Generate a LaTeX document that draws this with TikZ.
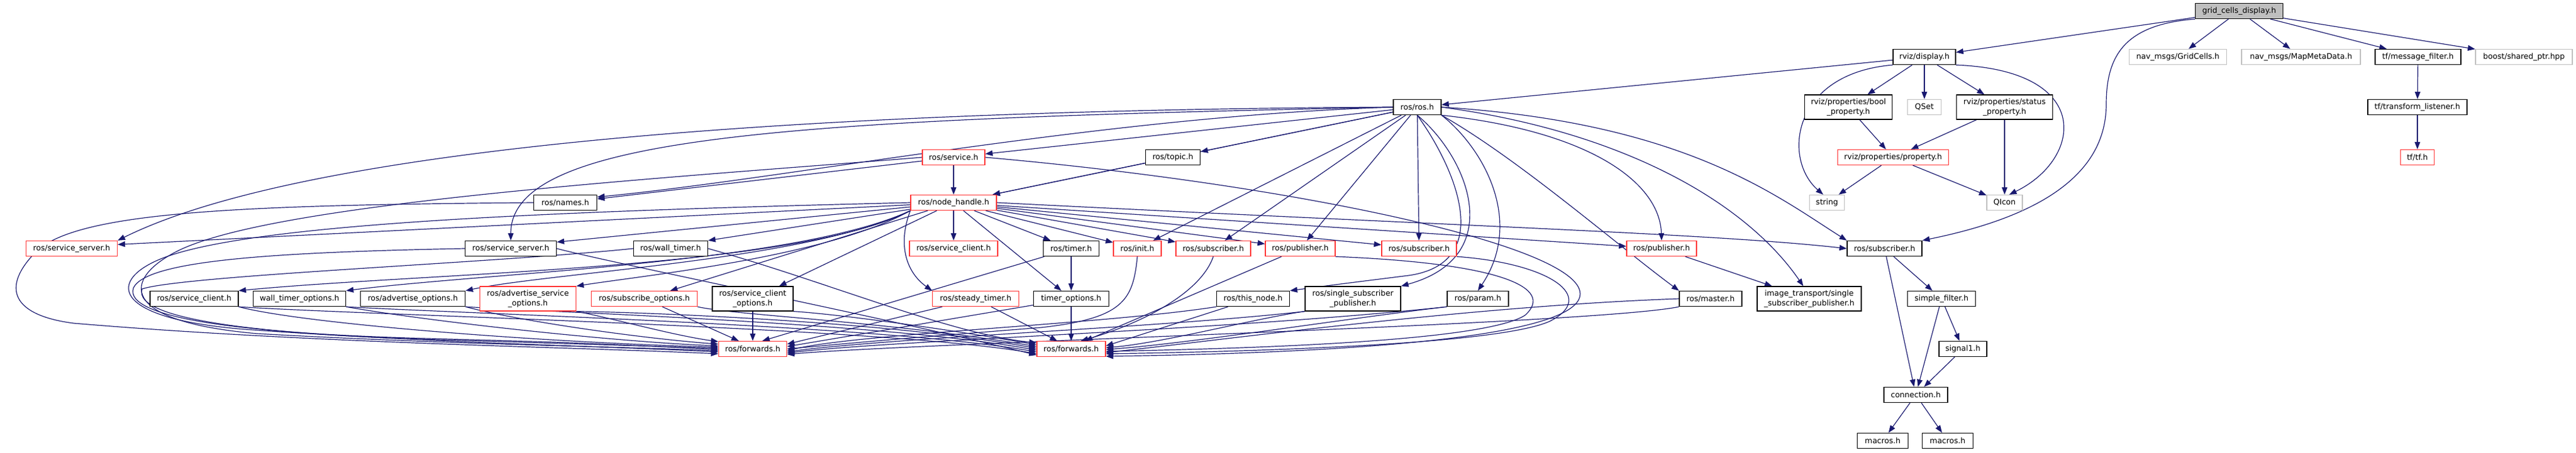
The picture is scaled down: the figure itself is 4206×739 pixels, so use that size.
\documentclass[tikz,border=0pt]{standalone}
\usepackage{fontspec}
\setmainfont{DejaVu Sans}
\usetikzlibrary{arrows.meta}
\pgfdeclarelayer{edges}
\pgfsetlayers{edges,main}
\definecolor{edgec}{RGB}{25,25,112}
\definecolor{redc}{RGB}{255,50,50}
\definecolor{grayc}{RGB}{191,191,191}
\tikzset{
 nb/.style={draw=black, line width=1.3pt, fill=white, inner sep=0pt, minimum height=25pt, font=\fontsize{12.6}{15.5}\selectfont, align=center},
 nr/.style={nb, draw=redc},
 ng/.style={nb, draw=grayc},
 tall/.style={minimum height=40pt},
 e/.style={draw=edgec, line width=1.2pt, -{Triangle[length=12pt,width=9pt]}},
}
\begin{document}
\begin{tikzpicture}[x=1pt,y=-1pt]
\useasboundingbox (0,0) rectangle (4206,739);
% row 1
\node[nb, fill=grayc, minimum width=143pt] (gcd) at (3656,18) {grid\_cells\_display.h};
% row 2
\node[nb, minimum width=102pt] (disp) at (3142,93) {rviz/display.h};
\node[ng, minimum width=159pt] (gridcells) at (3556,93) {nav\_msgs/GridCells.h};
\node[ng, minimum width=194pt] (mapmeta) at (3757,93) {nav\_msgs/MapMetaData.h};
\node[nb, minimum width=140pt] (msgfilter) at (3948,93) {tf/message\_filter.h};
\node[ng, minimum width=158pt] (sharedptr) at (4121,93) {boost/shared\_ptr.hpp};
% row 3
\node[nb, minimum width=78pt] (ros) at (2314,175) {ros/ros.h};
\node[nb, tall, minimum width=143pt] (boolp) at (3018,175) {rviz/properties/bool\\\_property.h};
\node[ng, minimum width=55pt] (qset) at (3142,175) {QSet};
\node[nb, tall, minimum width=157pt] (statusp) at (3273,175) {rviz/properties/status\\\_property.h};
\node[nb, minimum width=162pt] (tflisten) at (3947,175) {tf/transform\_listener.h};
% row 4
\node[nr, minimum width=102pt] (service) at (1557,257) {ros/service.h};
\node[nb, minimum width=89pt] (topic) at (1915,257) {ros/topic.h};
\node[nr, minimum width=181pt] (prop) at (3091,257) {rviz/properties/property.h};
\node[nr, minimum width=55pt] (tftf) at (3947,257) {tf/tf.h};
% row 5
\node[nb, minimum width=103pt] (names) at (923,331) {ros/names.h};
\node[nr, minimum width=140pt] (nh) at (1557,331) {ros/node\_handle.h};
\node[ng, minimum width=57pt] (string) at (2983,331) {string};
\node[ng, minimum width=58pt] (qicon) at (3273,331) {QIcon};
% row 6
\node[nr, minimum width=149pt] (ssr) at (117,406) {ros/service\_server.h};
\node[nb, minimum width=149pt] (ssb) at (834,406) {ros/service\_server.h};
\node[nb, minimum width=121pt] (walltimer) at (1095,406) {ros/wall\_timer.h};
\node[nr, minimum width=144pt] (scr) at (1557,406) {ros/service\_client.h};
\node[nb, minimum width=91pt] (timer) at (1749,406) {ros/timer.h};
\node[nr, minimum width=78pt] (init) at (1857,406) {ros/init.h};
\node[nr, minimum width=122pt] (sub1) at (1981,406) {ros/subscriber.h};
\node[nr, minimum width=114pt] (pub1) at (2123,406) {ros/publisher.h};
\node[nr, minimum width=122pt] (sub2) at (2317,406) {ros/subscriber.h};
\node[nr, minimum width=114pt] (pub2) at (2713,406) {ros/publisher.h};
\node[nb, minimum width=122pt] (subb) at (3077,406) {ros/subscriber.h};
% row 7
\node[nb, minimum width=144pt] (scb) at (317,488) {ros/service\_client.h};
\node[nb, minimum width=151pt] (wto) at (489,488) {wall\_timer\_options.h};
\node[nb, minimum width=171pt] (ado) at (674,488) {ros/advertise\_options.h};
\node[nr, tall, minimum width=157pt] (aso) at (862,488) {ros/advertise\_service\\\_options.h};
\node[nr, minimum width=173pt] (sbo) at (1052,488) {ros/subscribe\_options.h};
\node[nb, tall, minimum width=132pt] (sco) at (1229,488) {ros/service\_client\\\_options.h};
\node[nr, minimum width=141pt] (steady) at (1593,488) {ros/steady\_timer.h};
\node[nb, minimum width=123pt] (tmo) at (1749,488) {timer\_options.h};
\node[nb, minimum width=119pt] (thisnode) at (2046,488) {ros/this\_node.h};
\node[nb, tall, minimum width=156pt] (ssp) at (2209,488) {ros/single\_subscriber\\\_publisher.h};
\node[nb, minimum width=100pt] (param) at (2413,488) {ros/param.h};
\node[nb, minimum width=102pt] (master) at (2793,488) {ros/master.h};
\node[nb, tall, minimum width=170pt] (itssp) at (2954,488) {image\_transport/single\\\_subscriber\_publisher.h};
\node[nb, minimum width=111pt] (sfilter) at (3170,488) {simple\_filter.h};
% rows 8-10
\node[nr, minimum width=111pt] (fwdL) at (1229,570) {ros/forwards.h};
\node[nr, minimum width=112pt] (fwdR) at (1749,570) {ros/forwards.h};
\node[nb, minimum width=78pt] (signal1) at (3205,570) {signal1.h};
\node[nb, minimum width=104pt] (conn) at (3128,645) {connection.h};
\node[nb, minimum width=83pt] (macL) at (3074,720) {macros.h};
\node[nb, minimum width=83pt] (macR) at (3180,720) {macros.h};

\begin{pgfonlayer}{edges}
\fill[white] (0,0) rectangle (4206,739);
% top
\draw[e] (gcd) -- (disp);
\draw[e] (gcd) -- (gridcells);
\draw[e] (gcd) -- (mapmeta);
\draw[e] (gcd) -- (msgfilter);
\draw[e] (gcd) -- (sharedptr);
\draw[e] (gcd.south west) .. controls (3470,40) and (3439,90) .. (3439,170) .. controls (3439,300) and (3300,360) .. (subb.north east);
% rviz
\draw[e] (disp) -- (ros);
\draw[e] (disp) -- (boolp);
\draw[e] (disp) -- (qset);
\draw[e] (disp) -- (statusp);
\draw[e] (disp.south west) .. controls (2925,120) and (2910,260) .. (string.115);
\draw[e] (disp.south east) .. controls (3420,115) and (3400,260) .. (qicon.60);
\draw[e] (boolp) -- (prop);
\draw[e] (statusp) -- (prop);
\draw[e] (statusp) -- (qicon);
\draw[e] (prop) -- (string);
\draw[e] (prop) -- (qicon);
\draw[e] (msgfilter) -- (tflisten);
\draw[e] (tflisten) -- (tftf);
% ros.h
\draw[e] (ros) -- (service);
\draw[e] (ros) -- (topic);
\draw[e] (ros) -- (nh);
\draw[e] (ros.west) .. controls (1800,190) and (1300,290) .. (names.10);
\draw[e] (ros.west) .. controls (1300,180) and (500,240) .. (ssr.north east);
\draw[e] (ros.west) .. controls (1300,195) and (834,220) .. (ssb.north);
\draw[e] (ros) -- (init);
\draw[e] (ros) -- (sub1);
\draw[e] (ros) -- (pub1);
\draw[e] (ros) -- (sub2);
\draw[e] (ros.south east) .. controls (2600,215) and (2710,300) .. (pub2.north);
\draw[e] (ros.east) .. controls (2750,200) and (2900,320) .. (subb.north west);
\draw[e] (ros.east) .. controls (2650,215) and (2850,330) .. (itssp.115);
\draw[e] (ros.south east) .. controls (2480,260) and (2640,400) .. (master.north west);
\draw[e] (ros.south east) .. controls (2420,240) and (2490,360) .. (param.north);
\draw[e] (ros.south) .. controls (2400,260) and (2460,420) .. (ssp.north east);
\draw[e] (ros.south) .. controls (2380,280) and (2440,430) .. (2300,450) .. controls (2180,465) .. (thisnode.north east);
% service, topic, names
\draw[e] (service) -- (nh);
\draw[e] (service) -- (names);
\draw[e] (topic) -- (nh);
\draw[e] (service.west) .. controls (1100,290) and (450,330) .. (290,410) .. controls (200,455) and (190,525) .. (420,545) .. controls (720,562) and (1000,566) .. (fwdL.183);
\draw[e] (service.east) .. controls (2100,300) and (2580,400) .. (2580,480) .. controls (2580,560) and (2100,578) .. (fwdR.348);
\draw[e] (names.west) .. controls (400,335) and (130,345) .. (60,410) .. controls (0,470) and (20,515) .. (120,528) .. controls (500,560) and (900,566) .. (fwdL.188);
% node_handle
\draw[e] (nh) -- (ssr.5);
\draw[e] (nh) -- (ssb.8);
\draw[e] (nh) -- (walltimer.north east);
\draw[e] (nh) -- (scr);
\draw[e] (nh) -- (timer);
\draw[e] (nh) -- (init);
\draw[e] (nh) -- (sub1);
\draw[e] (nh) -- (pub1);
\draw[e] (nh) -- (sub2);
\draw[e] (nh) -- (pub2);
\draw[e] (nh.east) .. controls (2400,370) and (2800,382) .. (subb.west);
\draw[e] (nh.south west) .. controls (1300,440) and (700,445) .. (scb.north east);
\draw[e] (nh.south west) .. controls (1300,430) and (800,445) .. (wto.north east);
\draw[e] (nh.south west) .. controls (1320,425) and (900,445) .. (ado.north east);
\draw[e] (nh.south west) .. controls (1350,420) and (1050,450) .. (aso.north east);
\draw[e] (nh) -- (sbo);
\draw[e] (nh) -- (sco);
\draw[e] (nh.south west) .. controls (1465,400) and (1480,445) .. (steady.north west);
\draw[e] (nh) -- (tmo);
\draw[e] (nh.west) .. controls (900,345) and (420,365) .. (270,420) .. controls (175,455) and (175,520) .. (400,538) .. controls (700,560) and (1000,566) .. (fwdL.185);
% row 6
\draw[e] (ssb.west) .. controls (450,412) and (240,425) .. (218,470) .. controls (200,520) and (400,545) .. (700,553) .. controls (950,560) .. (fwdL.181);
\draw[e] (ssb.east) .. controls (1000,430) and (1450,520) .. (fwdR.190);
\draw[e] (walltimer.west) .. controls (800,430) and (300,450) .. (232,472) .. controls (215,525) and (450,548) .. (750,556) .. controls (950,562) .. (fwdL.179);
\draw[e] (walltimer.east) .. controls (1350,460) and (1550,545) .. (fwdR.170);
\draw[e] (timer) -- (tmo);
\draw[e] (timer) -- (fwdL.40);
\draw[e] (init.south) .. controls (1850,490) and (1835,520) .. (1700,535) .. controls (1450,555) .. (fwdL.0);
\draw[e] (sub1.south) .. controls (1960,480) and (1860,530) .. (fwdR.40);
\draw[e] (pub1) -- (fwdR.30);
\draw[e] (pub1.south east) .. controls (2450,430) and (2540,470) .. (2490,515) .. controls (2420,560) and (2000,570) .. (fwdR.356);
\draw[e] (sub2.south east) .. controls (2530,430) and (2610,485) .. (2530,525) .. controls (2440,565) and (2000,575) .. (fwdR.352);
\draw[e] (pub2) -- (itssp);
\draw[e] (subb) -- (sfilter);
\draw[e] (subb) -- (conn);
\draw[e] (sfilter) -- (conn);
\draw[e] (sfilter) -- (signal1);
\draw[e] (signal1) -- (conn);
\draw[e] (conn) -- (macL);
\draw[e] (conn) -- (macR);
% row 7 to forwards
\draw[e] (scb.south east) .. controls (500,530) and (900,560) .. (fwdL.177);
\draw[e] (scb.south east) .. controls (600,515) and (1450,535) .. (fwdR.188);
\draw[e] (wto.south east) .. controls (700,525) and (1000,558) .. (fwdL.175);
\draw[e] (wto.south east) .. controls (750,512) and (1450,532) .. (fwdR.185);
\draw[e] (ado.south east) .. controls (850,525) and (1050,553) .. (fwdL.172);
\draw[e] (ado.south east) .. controls (900,510) and (1450,528) .. (fwdR.182);
\draw[e] (aso.south east) .. controls (1000,520) and (1100,548) .. (fwdL.168);
\draw[e] (aso.south east) .. controls (1050,510) and (1450,525) .. (fwdR.179);
\draw[e] (sbo) -- (fwdL.150);
\draw[e] (sbo.south east) .. controls (1200,515) and (1450,525) .. (fwdR.176);
\draw[e] (sco) -- (fwdL);
\draw[e] (sco.south east) .. controls (1350,512) and (1500,530) .. (fwdR.173);
\draw[e] (steady) -- (fwdL.8);
\draw[e] (steady) -- (fwdR.150);
\draw[e] (tmo) -- (fwdR);
\draw[e] (tmo) -- (fwdL.4);
\draw[e] (thisnode) -- (fwdR.5);
\draw[e] (thisnode.south west) .. controls (1800,530) and (1400,545) .. (fwdL.357);
\draw[e] (ssp.south west) .. controls (2050,520) and (1900,560) .. (fwdR.2);
\draw[e] (ssp.south west) .. controls (1900,535) and (1450,552) .. (fwdL.355);
\draw[e] (param.south west) .. controls (2200,520) and (1950,560) .. (fwdR.359);
\draw[e] (param.south west) .. controls (2000,540) and (1450,556) .. (fwdL.353);
\draw[e] (master.west) .. controls (2400,500) and (2000,555) .. (fwdR.354);
\draw[e] (master.south west) .. controls (2600,530) and (1500,560) .. (fwdL.351);
\end{pgfonlayer}
\end{tikzpicture}
\end{document}
